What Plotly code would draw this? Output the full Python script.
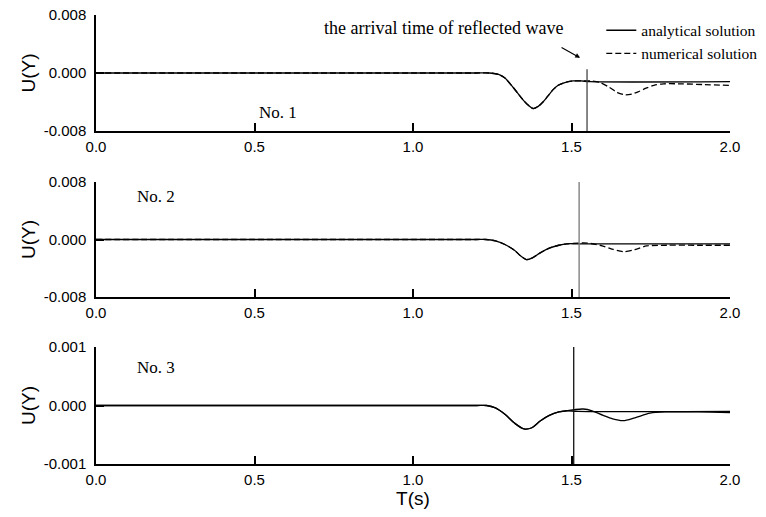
import plotly.graph_objects as go

# ---------------- data ----------------
x_ticks = [0.0, 0.5, 1.0, 1.5, 2.0]
x_tick_labels = ["0.0", "0.5", "1.0", "1.5", "2.0"]

y_ticks_12 = [-0.008, 0.0, 0.008]
y_tick_labels_12 = ["-0.008", "0.000", "0.008"]
y_ticks_3 = [-0.001, 0.0, 0.001]
y_tick_labels_3 = ["-0.001", "0.000", "0.001"]

# Panel No. 1
t1_ana = [0.0, 0.5, 1.0, 1.20, 1.24, 1.27, 1.29, 1.316, 1.347, 1.365, 1.379, 1.395, 1.41, 1.425, 1.442, 1.458, 1.474, 1.49, 1.505, 1.53, 1.56, 2.0]
u1_ana = [0.0, 0.0, 0.0, 0.0, 0.0, -0.0002, -0.0007, -0.0020, -0.0037, -0.0045, -0.0049, -0.0046, -0.0040, -0.0032, -0.0023, -0.0017, -0.0014, -0.0012, -0.0011, -0.0011, -0.0012, -0.0012]
t1_num = [0.0, 0.5, 1.0, 1.20, 1.24, 1.27, 1.29, 1.316, 1.347, 1.365, 1.379, 1.395, 1.41, 1.425, 1.442, 1.458, 1.474, 1.49, 1.505, 1.53, 1.56, 1.59, 1.62, 1.645, 1.669, 1.69, 1.71, 1.735, 1.76, 1.79, 1.85, 1.92, 2.0]
u1_num = [0.0, 0.0, 0.0, 0.0, 0.0, -0.0002, -0.0007, -0.0020, -0.0037, -0.0045, -0.0049, -0.0046, -0.0040, -0.0032, -0.0023, -0.0017, -0.0014, -0.0012, -0.0011, -0.0011, -0.0011, -0.0013, -0.0020, -0.0027, -0.0030, -0.0029, -0.0026, -0.0021, -0.0017, -0.0015, -0.0015, -0.0016, -0.0017]

# Panel No. 2
t2_ana = [0.0, 0.5, 1.0, 1.20, 1.23, 1.26, 1.29, 1.32, 1.34, 1.358, 1.375, 1.40, 1.43, 1.46, 1.485, 1.52, 2.0]
u2_ana = [0.0, 0.0, 0.0, 0.0, 0.0, -0.0002, -0.0007, -0.0015, -0.0023, -0.0028, -0.0026, -0.0019, -0.0012, -0.0008, -0.0006, -0.0006, -0.0006]
t2_num = [0.0, 0.5, 1.0, 1.20, 1.23, 1.26, 1.29, 1.32, 1.34, 1.358, 1.375, 1.40, 1.43, 1.46, 1.485, 1.52, 1.55, 1.59, 1.625, 1.663, 1.70, 1.737, 1.80, 1.90, 2.0]
u2_num = [0.0, 0.0, 0.0, 0.0, 0.0, -0.0002, -0.0007, -0.0015, -0.0023, -0.0028, -0.0026, -0.0019, -0.0012, -0.0008, -0.0006, -0.0005, -0.0005, -0.0008, -0.0013, -0.0017, -0.0014, -0.0009, -0.0008, -0.0008, -0.0008]

# Panel No. 3
t3_ana = [0.0, 0.5, 1.0, 1.20, 1.232, 1.26, 1.29, 1.32, 1.35, 1.375, 1.40, 1.43, 1.46, 1.485, 1.52, 2.0]
u3_ana = [0.0, 0.0, 0.0, 0.0, 0.0, -0.00004, -0.00015, -0.00030, -0.00040, -0.00038, -0.00027, -0.00017, -0.00011, -0.00009, -0.00010, -0.00010]
t3_num = [0.0, 0.5, 1.0, 1.20, 1.232, 1.26, 1.29, 1.32, 1.35, 1.375, 1.40, 1.43, 1.46, 1.485, 1.51, 1.537, 1.565, 1.60, 1.63, 1.663, 1.70, 1.748, 1.80, 1.90, 2.0]
u3_num = [0.0, 0.0, 0.0, 0.0, 0.0, -0.00004, -0.00015, -0.00030, -0.00040, -0.00038, -0.00027, -0.00017, -0.00011, -0.00009, -0.00007, -0.00006, -0.00009, -0.00017, -0.00023, -0.00026, -0.00021, -0.00013, -0.00011, -0.00011, -0.00012]

# arrival time of reflected wave (vertical marker) per panel
arrival_t = [1.549, 1.524, 1.507]
arrival_top = [0.0005, 0.008, 0.001]
arrival_bottom = [-0.008, -0.008, -0.001]

panel_labels = ["No. 1", "No. 2", "No. 3"]

# ---------------- figure ----------------
SANS = "Liberation Sans, Arial, sans-serif"
SERIF = "Liberation Serif, Times New Roman, serif"

fig = go.Figure()

panels = [
    (t1_ana, u1_ana, t1_num, u1_num, "6px,3px"),
    (t2_ana, u2_ana, t2_num, u2_num, "6px,3px"),
    (t3_ana, u3_ana, t3_num, u3_num, "solid"),
]
vline_colors = ["#444444", "#777777", "#111111"]

for i, (ta, ua, tn, un, dash) in enumerate(panels):
    xa = "x" if i == 0 else f"x{i+1}"
    ya = "y" if i == 0 else f"y{i+1}"
    fig.add_trace(go.Scatter(x=ta, y=ua, mode="lines", xaxis=xa, yaxis=ya,
                             line=dict(color="black", width=1.3, shape="spline", smoothing=0.8),
                             name="analytical solution", showlegend=(i == 0)))
    fig.add_trace(go.Scatter(x=tn, y=un, mode="lines", xaxis=xa, yaxis=ya,
                             line=dict(color="black", width=1.3, dash=dash, shape="spline", smoothing=0.8),
                             name="numerical solution", showlegend=(i == 0)))
    fig.add_trace(go.Scatter(x=[arrival_t[i], arrival_t[i]], y=[arrival_bottom[i], arrival_top[i]],
                             mode="lines", xaxis=xa, yaxis=ya,
                             line=dict(color=vline_colors[i], width=1.3),
                             showlegend=False, hoverinfo="skip"))

H = 449.0
domains = [[333 / H, 1.0], [167 / H, 282 / H], [0.0, 117 / H]]

axis_common = dict(showline=True, linecolor="black", linewidth=1.5, ticks="inside",
                   ticklen=8, tickwidth=1.5, tickcolor="black", showgrid=False,
                   zeroline=False, automargin=False, ticklabeloverflow="allow",
                   tickfont=dict(family=SANS, size=15, color="black"))

layout = dict(
    width=766, height=517,
    margin=dict(l=96, r=36, t=15, b=53, autoexpand=False),
    paper_bgcolor="white", plot_bgcolor="white",
    showlegend=True,
    legend=dict(x=0.797, y=1.003, xanchor="left", yanchor="top",
                font=dict(family=SERIF, size=15.5, color="black"),
                bgcolor="rgba(0,0,0,0)", tracegroupgap=0, itemwidth=30),
)

for i in range(3):
    xk = "xaxis" if i == 0 else f"xaxis{i+1}"
    yk = "yaxis" if i == 0 else f"yaxis{i+1}"
    ya = "y" if i == 0 else f"y{i+1}"
    xa = "x" if i == 0 else f"x{i+1}"
    yt = y_ticks_3 if i == 2 else y_ticks_12
    yl = y_tick_labels_3 if i == 2 else y_tick_labels_12
    layout[xk] = dict(axis_common, domain=[0, 1], anchor=ya, range=[0, 2.0],
                      tickvals=x_ticks, ticktext=x_tick_labels, ticklabelstandoff=1)
    layout[yk] = dict(axis_common, domain=domains[i], anchor=xa, range=[yt[0], yt[-1]],
                      tickvals=yt, ticktext=yl, ticklabelstandoff=5,
                      title=dict(text="U(Y)", font=dict(family=SANS, size=19, color="black"), standoff=3))

layout["xaxis3"]["title"] = dict(text="T(s)", font=dict(family=SANS, size=19, color="black"), standoff=2)

fig.update_layout(**layout)

annots = [
    dict(x=0.573, y=-0.0054, xref="x", yref="y", text=panel_labels[0], showarrow=False,
         font=dict(family=SERIF, size=17, color="black")),
    dict(x=0.188, y=0.0060, xref="x2", yref="y2", text=panel_labels[1], showarrow=False,
         font=dict(family=SERIF, size=17, color="black")),
    dict(x=0.188, y=0.00065, xref="x3", yref="y3", text=panel_labels[2], showarrow=False,
         font=dict(family=SERIF, size=17, color="black")),
    dict(x=1.095, y=0.0062, xref="x", yref="y", text="the arrival time of reflected wave",
         showarrow=False, font=dict(family=SERIF, size=18, color="black")),
    dict(x=1.527, y=0.0021, xref="x", yref="y", text="", showarrow=True,
         ax=-20, ay=-11, arrowhead=2, arrowsize=0.8, arrowwidth=1.2, arrowcolor="black"),
]
fig.update_layout(annotations=annots)

fig.write_html("out.html", config={"displayModeBar": False},
               post_script="document.body.style.margin='0';")
